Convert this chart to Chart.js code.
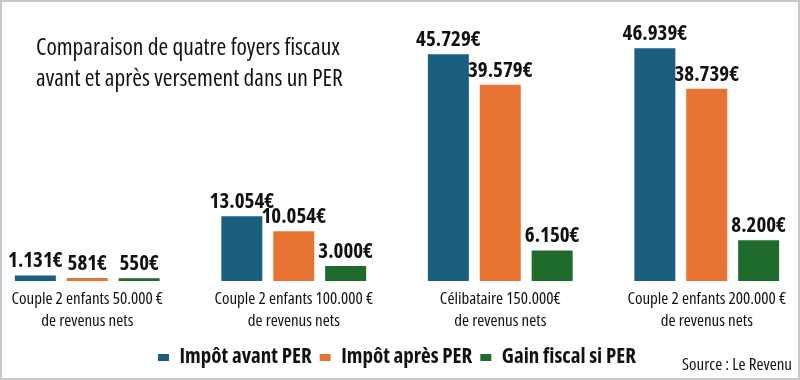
<!DOCTYPE html>
<html>
<head>
<meta charset="utf-8">
<script src="https://cdn.jsdelivr.net/npm/chart.js@4/dist/chart.umd.min.js"></script>
<style>
  html, body { margin: 0; padding: 0; background: #fff; }
  #frame {
    position: relative; width: 800px; height: 380px; overflow: hidden;
    font-family: "Open Sans", sans-serif; font-stretch: 75%;
  }
  #frame::after {
    content: ""; position: absolute; left: 0; top: 0; right: 0; bottom: 0;
    border: 2px solid #c8c8c8; pointer-events: none;
  }
  #box { position: absolute; left: -16px; top: 0; width: 826px; height: 380px; }
  #title {
    position: absolute; left: 36px; top: 31px; font-size: 23.5px; line-height: 31px; color: #111;
  }
  #source {
    position: absolute; right: 8px; top: 352px; font-size: 17px; color: #111;
  }
</style>
</head>
<body>
<div id="frame">
  <div id="box"><canvas id="perChart"></canvas></div>
  <div id="title">Comparaison de quatre foyers fiscaux<br>avant et après versement dans un PER</div>
  <div id="source">Source : Le Revenu</div>
</div>
<script>
// --- Data ---
const categories = [
    ["Couple 2 enfants 50.000 €", "de revenus nets"],
    ["Couple 2 enfants 100.000 €", "de revenus nets"],
    ["Célibataire 150.000€", "de revenus nets"],
    ["Couple 2 enfants 200.000 €", "de revenus nets"]
];
const impotAvant = [1131, 13054, 45729, 46939];
const impotApres = [581, 10054, 39579, 38739];
const gainFiscal = [550, 3000, 6150, 8200];
const seriesNames = ["Impôt avant PER", "Impôt après PER", "Gain fiscal si PER"];
const colors = ["#1b5f80", "#e87434", "#1e6b2b"];

// Open Sans variable, largeur condensée (75%)
const fontFamily = '"Open Sans", sans-serif';

const fmt = v => String(v).replace(/\B(?=(\d{3})+(?!\d))/g, '.') + '€';

// --- valeurs au-dessus des barres ---
const valueLabels = {
    id: 'valueLabels',
    afterDatasetsDraw(chart) {
        const ctx = chart.ctx;
        ctx.save();
        ctx.font = 'bold condensed 21px ' + fontFamily;
        ctx.fillStyle = '#111';
        ctx.textAlign = 'center';
        ctx.textBaseline = 'alphabetic';
        chart.data.datasets.forEach((ds, i) => {
            chart.getDatasetMeta(i).data.forEach((bar, j) => {
                ctx.fillText(fmt(ds.data[j]), bar.x, bar.y - 8);
            });
        });
        ctx.restore();
    }
};

new Chart(document.getElementById('perChart'), {
    type: 'bar',
    data: {
        labels: categories,
        datasets: [impotAvant, impotApres, gainFiscal].map((d, i) => ({
            label: seriesNames[i],
            data: d,
            backgroundColor: colors[i],
            categoryPercentage: 0.754,
            barPercentage: 0.79
        }))
    },
    options: {
        responsive: true,
        maintainAspectRatio: false,
        animation: false,
        layout: { padding: { top: 0, bottom: 2 } },
        scales: {
            x: {
                grid: { display: false, drawTicks: false },
                border: { display: false },
                ticks: {
                    color: '#111',
                    padding: 7,
                    font: { family: fontFamily, size: 17, weight: 'condensed', lineHeight: 22 / 17 }
                },
                afterFit: scale => { scale.height = 58; }
            },
            y: { display: false, min: 0, max: 56650 }
        },
        plugins: {
            legend: {
                position: 'bottom',
                labels: {
                    color: '#111',
                    boxWidth: 11,
                    boxHeight: 7,
                    padding: 8,
                    font: { family: fontFamily, size: 21, weight: 'bold condensed' }
                }
            },
            tooltip: { enabled: false }
        }
    },
    plugins: [valueLabels]
});
</script>
</body>
</html>
